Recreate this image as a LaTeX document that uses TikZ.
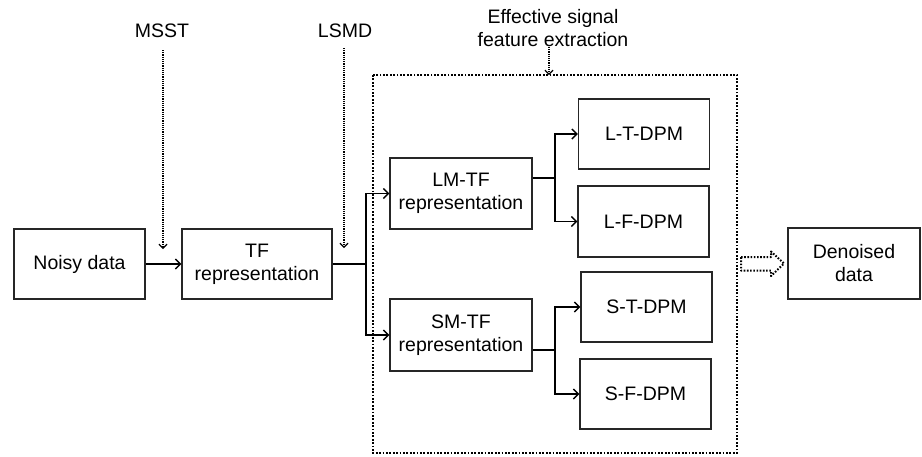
\documentclass[tikz,border=0pt]{standalone}
\usepackage{fontspec}
\setmainfont{Liberation Sans}
\usetikzlibrary{arrows.meta}
\begin{document}
\begin{tikzpicture}[x=1pt,y=-1pt,
  box/.style={draw=black!85, line width=1.3pt, align=center, inner sep=0pt,
    minimum width=131pt, minimum height=70pt,
    font=\fontsize{19.5}{23}\selectfont},
  lbl/.style={align=center, inner sep=0pt, font=\fontsize{19.5}{23}\selectfont},
  flow/.style={line width=1.4pt, -{Straight Barb[length=5pt,width=10pt,line width=1.4pt]}},
  wire/.style={line width=1.4pt},
  hint/.style={line width=1.3pt, dash pattern=on 1.1pt off 1.1pt,
    -{Straight Barb[length=4pt,width=8pt,line width=1.2pt,line cap=butt]}},
  frame/.style={line width=2.4pt, dash pattern=on 1.8pt off 1.6pt}]
\useasboundingbox (0,0) rectangle (922,456);

% processing chain
\node[box] (noisy) at (79.5,264) {Noisy data};
\node[box, minimum width=150pt] (tf) at (257,264) {TF\\representation};
\node[box, minimum width=142pt, minimum height=71pt] (lm) at (461,193.5) {LM-TF\\representation};
\node[box, minimum width=142pt, minimum height=72pt] (sm) at (461,335) {SM-TF\\representation};
\node[box] (lt) at (644,134) {L-T-DPM};
\node[box, minimum height=71pt] (lf) at (643.5,221.5) {L-F-DPM};
\node[box] (st) at (646.5,307) {S-T-DPM};
\node[box] (sf) at (645.5,394) {S-F-DPM};
\node[box, minimum width=132pt, minimum height=71pt] (den) at (854,263.5) {Denoised\\data};

% feature extraction frame
\draw[frame] (373,75) rectangle (737,453);
\coordinate (ftop) at (549,75);

% method labels
\node[lbl] (msst) at (162,31) {MSST};
\node[lbl] (lsmd) at (345,31) {LSMD};
\node[lbl] (eff) at (553,28) {Effective signal\\feature extraction};

\draw[hint] (163,50) -- (163,249);
\draw[hint] (344,48) -- (344,248);
\draw[hint] (549,47) -- (ftop);

% connectors
\draw[flow] (noisy) -- (tf);

\coordinate (j1) at (366,264);
\draw[wire] (tf.east) -- (j1);
\draw[flow] (j1) |- (lm.west);
\draw[flow] (j1) |- (sm.west);

\coordinate (j2) at (555,178);
\draw[wire] (lm.east |- j2) -- (j2);
\draw[flow] (j2) |- (lt.west);
\draw[flow] (j2) |- (lf.west);

\coordinate (j3) at (555,350);
\draw[wire] (sm.east |- j3) -- (j3);
\draw[flow] (j3) |- (st.west);
\draw[flow] (j3) |- (sf.west);

% hollow dotted block arrow to the output
\draw[line width=2pt, dash pattern=on 1.6pt off 1.6pt, line join=round]
  (741,257) -- (771,257) -- (771,251.5) -- (784,263.5) -- (771,276)
  -- (771,270.5) -- (741,270.5) -- cycle;
\end{tikzpicture}
\end{document}
